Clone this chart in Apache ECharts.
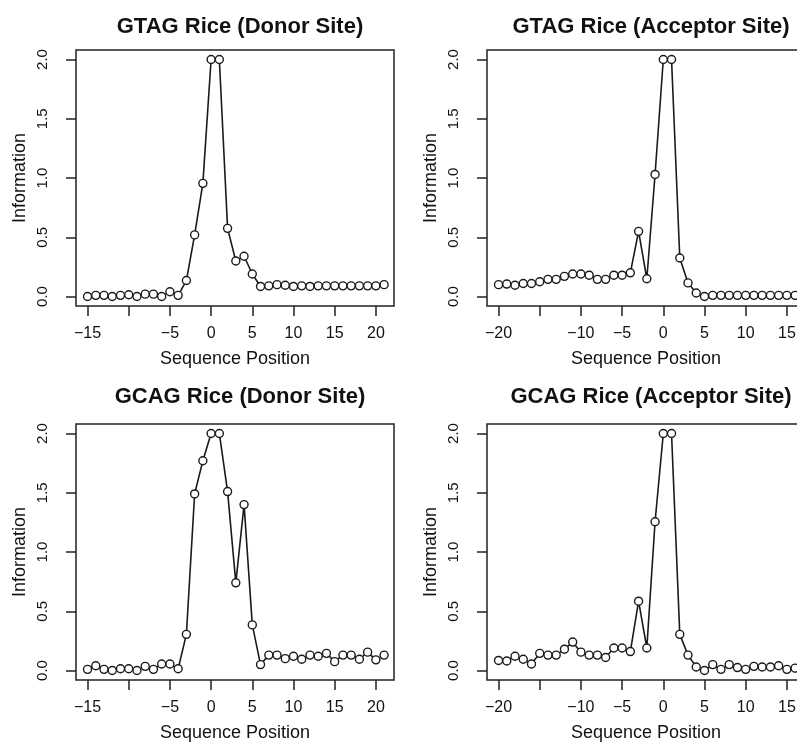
<!DOCTYPE html>
<html>
<head>
<meta charset="utf-8">
<script src="https://cdn.jsdelivr.net/npm/echarts@6/dist/echarts.min.js"></script>
<style>
html,body{margin:0;padding:0;background:#fff;}
#chart{width:797px;height:744px;}
</style>
</head>
<body>
<div id="chart"></div>
<script>
// ---- Data ----
const titles = ["GTAG Rice (Donor Site)", "GTAG Rice (Acceptor Site)", "GCAG Rice (Donor Site)", "GCAG Rice (Acceptor Site)"];
const donorPositions = [-15,-14,-13,-12,-11,-10,-9,-8,-7,-6,-5,-4,-3,-2,-1,0,1,2,3,4,5,6,7,8,9,10,11,12,13,14,15,16,17,18,19,20,21];
const acceptorPositions = [-20,-19,-18,-17,-16,-15,-14,-13,-12,-11,-10,-9,-8,-7,-6,-5,-4,-3,-2,-1,0,1,2,3,4,5,6,7,8,9,10,11,12,13,14,15,16];
const gtagDonor = [0.00,0.01,0.01,0.00,0.01,0.015,0.00,0.02,0.02,0.00,0.04,0.01,0.135,0.52,0.955,2.0,2.0,0.575,0.30,0.34,0.19,0.085,0.09,0.10,0.095,0.085,0.09,0.085,0.09,0.09,0.09,0.09,0.09,0.09,0.09,0.09,0.10];
const gtagAcceptor = [0.10,0.105,0.095,0.11,0.11,0.125,0.145,0.145,0.17,0.19,0.19,0.18,0.145,0.145,0.18,0.18,0.20,0.55,0.15,1.03,2.0,2.0,0.325,0.115,0.03,0.0,0.01,0.01,0.01,0.01,0.01,0.01,0.01,0.01,0.01,0.01,0.01];
const gcagDonor = [0.01,0.04,0.01,0.0,0.015,0.015,0.0,0.035,0.01,0.055,0.055,0.015,0.305,1.49,1.77,2.0,2.0,1.51,0.74,1.40,0.385,0.05,0.13,0.13,0.10,0.12,0.095,0.13,0.12,0.145,0.075,0.13,0.13,0.095,0.155,0.09,0.13];
const gcagAcceptor = [0.085,0.08,0.12,0.095,0.055,0.145,0.13,0.13,0.18,0.24,0.155,0.13,0.13,0.11,0.19,0.19,0.16,0.585,0.19,1.255,2.0,2.0,0.305,0.13,0.03,0.0,0.05,0.01,0.05,0.025,0.01,0.035,0.03,0.03,0.04,0.01,0.02];
const donorTicks = [-15,-10,-5,0,5,10,15,20];
const donorTickLabels = [-15,-5,0,5,10,15,20];
const acceptorTicks = [-20,-15,-10,-5,0,5,10,15];
const acceptorTickLabels = [-20,-10,-5,0,5,10,15];
const yTicks = [0,0.5,1.0,1.5,2.0];
const xName = "Sequence Position";
const yName = "Information";

// ---- Layout ----
const FONT = "'Liberation Sans', Arial, Helvetica, sans-serif";
const panels = [
  {left:76, top:50, titleTop:11, xs:donorPositions, ys:gtagDonor, xmin:-16.4, xmax:22.2, ticks:donorTicks, labels:donorTickLabels},
  {left:487, top:50, titleTop:11, xs:acceptorPositions, ys:gtagAcceptor, xmin:-21.4, xmax:17.2, ticks:acceptorTicks, labels:acceptorTickLabels},
  {left:76, top:424, titleTop:381, xs:donorPositions, ys:gcagDonor, xmin:-16.4, xmax:22.2, ticks:donorTicks, labels:donorTickLabels},
  {left:487, top:424, titleTop:381, xs:acceptorPositions, ys:gcagAcceptor, xmin:-21.4, xmax:17.2, ticks:acceptorTicks, labels:acceptorTickLabels}
];
const W = 318, H = 256;
const fmtX = v => (v < 0 ? '\u2212' + Math.abs(v) : String(v));

const option = {
  backgroundColor: '#fff',
  animation: false,
  title: panels.map((p, i) => ({
    text: titles[i],
    left: p.left + W / 2,
    top: p.titleTop,
    textAlign: 'center',
    textStyle: {fontFamily: FONT, fontSize: 22, fontWeight: 'bold', color: '#111'}
  })),
  grid: panels.map(p => ({
    left: p.left, top: p.top, width: W, height: H,
    show: true, borderColor: '#222', borderWidth: 1.5, backgroundColor: 'transparent',
    containLabel: false, outerBoundsMode: 'none'
  })),
  xAxis: panels.map((p, i) => ({
    type: 'value', gridIndex: i, min: p.xmin, max: p.xmax,
    axisLine: {show: false, onZero: false},
    splitLine: {show: false},
    axisTick: {show: true, inside: false, length: 10, customValues: p.ticks, lineStyle: {color: '#222', width: 1.5}},
    axisLabel: {show: true, customValues: p.labels, formatter: fmtX, margin: 20,
      fontFamily: FONT, fontSize: 16, color: '#111'},
    name: xName, nameLocation: 'middle', nameGap: 44,
    nameTextStyle: {fontFamily: FONT, fontSize: 18, color: '#111'}
  })),
  yAxis: panels.map((p, i) => ({
    type: 'value', gridIndex: i, min: -0.08, max: 2.08,
    axisLine: {show: false, onZero: false},
    splitLine: {show: false},
    axisTick: {show: true, inside: false, length: 10, customValues: yTicks, lineStyle: {color: '#222', width: 1.5}},
    axisLabel: {show: true, customValues: yTicks, rotate: 90, margin: 26,
      formatter: v => Number(v).toFixed(1),
      fontFamily: FONT, fontSize: 15, color: '#111'},
    name: yName, nameLocation: 'middle', nameGap: 47, nameRotate: 90,
    nameTextStyle: {fontFamily: FONT, fontSize: 18, color: '#111'}
  })),
  series: panels.map((p, i) => ({
    type: 'line', xAxisIndex: i, yAxisIndex: i,
    data: p.xs.map((x, k) => [x, p.ys[k]]),
    symbol: 'circle', symbolSize: 8, showSymbol: true,
    lineStyle: {color: '#1a1a1a', width: 1.6},
    itemStyle: {color: '#fff', borderColor: '#1a1a1a', borderWidth: 1.4},
    clip: false
  }))
};

const chart = echarts.init(document.getElementById('chart'), null, {renderer: 'canvas'});
chart.setOption(option);
</script>
</body>
</html>
